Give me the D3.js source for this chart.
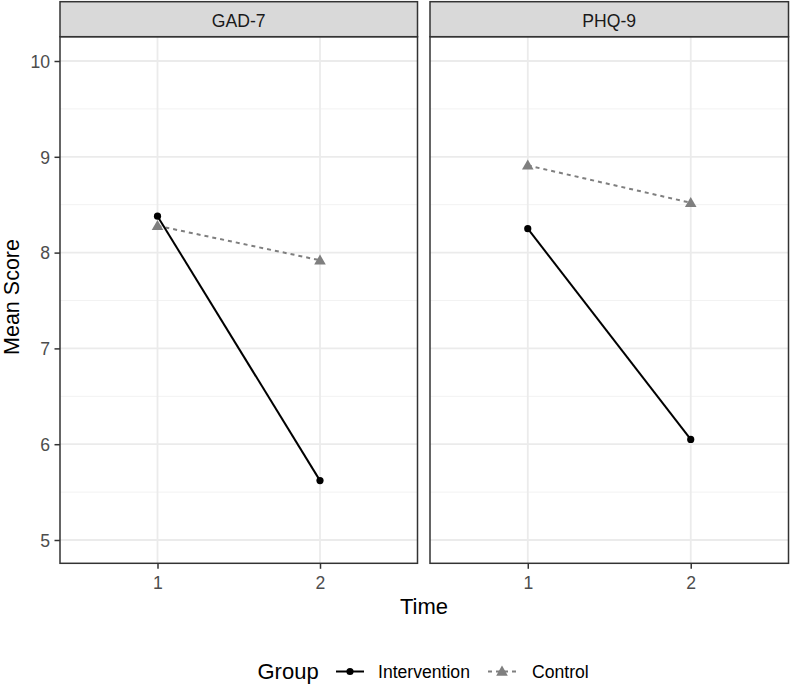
<!DOCTYPE html>
<html><head><meta charset="utf-8">
<script src="https://cdn.jsdelivr.net/npm/d3@7/dist/d3.min.js"></script>
<style>body{margin:0;background:#fff;} text{font-family:"Liberation Sans",Arial,sans-serif;}</style>
</head><body>
<svg id="c" width="790" height="686"></svg>
<script>
const facets = ["GAD-7", "PHQ-9"];
const times = [1, 2];
const groups = ["Intervention", "Control"];
const intervention = { "GAD-7": [8.38, 5.62], "PHQ-9": [8.25, 6.05] };
const control = { "GAD-7": [8.28, 7.92], "PHQ-9": [8.91, 8.52] };
const yTicks = [5, 6, 7, 8, 9, 10];
const yMinor = [5.5, 6.5, 7.5, 8.5, 9.5];

const FONT = "Liberation Sans, Arial, sans-serif";
const svg = d3.select("#c");
const panels = [{x0: 60, x1: 417.5}, {x0: 430, x1: 788.5}];
const stripTop = 1.7, stripBot = 36.7, pBot = 563.3;
const y = d3.scaleLinear().range([pBot, stripBot]);
y.domain([5 - (pBot-540)/95.8, 10 + (61-stripBot)/95.8]);

const series = [
  {name: "Intervention", data: intervention, color: "#000000", dash: null, shape: "circle"},
  {name: "Control", data: control, color: "#7F7F7F", dash: "4,4", shape: "triangle"}
];
const tri = d3.symbol().type(d3.symbolTriangle).size(58);

facets.forEach((f, i) => {
  const p = panels[i];
  const x = d3.scaleLinear().domain([0.4, 2.6]).range([p.x0, p.x1]);
  const g = svg.append("g");
  g.append("rect").attr("x", p.x0).attr("y", stripBot).attr("width", p.x1-p.x0).attr("height", pBot-stripBot).attr("fill", "#fff");
  yMinor.forEach(v => g.append("line").attr("x1", p.x0).attr("x2", p.x1).attr("y1", y(v)).attr("y2", y(v)).attr("stroke", "#F2F2F2").attr("stroke-width", 1));
  yTicks.forEach(v => g.append("line").attr("x1", p.x0).attr("x2", p.x1).attr("y1", y(v)).attr("y2", y(v)).attr("stroke", "#EBEBEB").attr("stroke-width", 1.8));
  times.forEach(t => g.append("line").attr("x1", x(t)).attr("x2", x(t)).attr("y1", stripBot).attr("y2", pBot).attr("stroke", "#EBEBEB").attr("stroke-width", 1.8));

  series.slice().reverse().forEach(s => {
    const pts = times.map((t, k) => [x(t), y(s.data[f][k])]);
    g.append("path").attr("d", d3.line()(pts)).attr("fill", "none").attr("stroke", s.color).attr("stroke-width", 2)
      .attr("stroke-dasharray", s.dash);
  });
  series.forEach(s => {
    times.forEach((t, k) => {
      if (s.shape === "circle") g.append("circle").attr("cx", x(t)).attr("cy", y(s.data[f][k])).attr("r", 3.6).attr("fill", s.color);
      else g.append("path").attr("d", tri).attr("transform", `translate(${x(t)},${y(s.data[f][k])+0.8})`).attr("fill", s.color);
    });
  });

  g.append("rect").attr("x", p.x0).attr("y", stripBot).attr("width", p.x1-p.x0).attr("height", pBot-stripBot).attr("fill", "none").attr("stroke", "#333").attr("stroke-width", 1.5);
  g.append("rect").attr("x", p.x0).attr("y", stripTop).attr("width", p.x1-p.x0).attr("height", stripBot-stripTop).attr("fill", "#D9D9D9").attr("stroke", "#333").attr("stroke-width", 1.5);
  g.append("text").attr("x", (p.x0+p.x1)/2).attr("y", 27.3).attr("text-anchor", "middle").attr("font-size", 17.6).attr("fill", "#1A1A1A").text(f);

  const xa = svg.append("g").attr("transform", `translate(0,${pBot})`).call(d3.axisBottom(x).tickValues(times).tickSize(5.5).tickPadding(4.4).tickFormat(d3.format("d")));
  xa.select(".domain").remove();
  xa.selectAll(".tick line").attr("stroke", "#333").attr("stroke-width", 1.5);
  xa.selectAll(".tick text").attr("font-size", 17.6).attr("fill", "#4D4D4D").attr("font-family", FONT).attr("dy", null).attr("y", 26);
  if (i === 0) {
    const ya = svg.append("g").attr("transform", `translate(${p.x0},0)`).call(d3.axisLeft(y).tickValues(yTicks).tickSize(5.5).tickPadding(4.4).tickFormat(d3.format("d")));
    ya.select(".domain").remove();
    ya.selectAll(".tick line").attr("stroke", "#333").attr("stroke-width", 1.5);
    ya.selectAll(".tick text").attr("font-size", 17.6).attr("fill", "#4D4D4D").attr("font-family", FONT).attr("dy", "0.36em");
  }
});

svg.append("text").attr("x", 424).attr("y", 614).attr("text-anchor", "middle").attr("font-size", 22).attr("fill", "#000").text("Time");
svg.append("text").attr("transform", "translate(18.5,297) rotate(-90)").attr("text-anchor", "middle").attr("font-size", 21.5).attr("fill", "#000").text("Mean Score");

const ly = 671.5;
svg.append("text").attr("x", 257.5).attr("y", ly).attr("dy", "0.35em").attr("font-size", 22).text("Group");
const keys = [{x: 336, tx: 378}, {x: 488, tx: 532}];
series.forEach((s, k) => {
  const kx = keys[k].x;
  svg.append("line").attr("x1", kx).attr("x2", kx+28).attr("y1", ly).attr("y2", ly).attr("stroke", s.color).attr("stroke-width", 2).attr("stroke-dasharray", s.dash);
  if (s.shape === "circle") svg.append("circle").attr("cx", kx+14).attr("cy", ly).attr("r", 3.6).attr("fill", s.color);
  else svg.append("path").attr("d", tri).attr("transform", `translate(${kx+14},${ly+0.8})`).attr("fill", s.color);
  svg.append("text").attr("x", keys[k].tx).attr("y", ly).attr("dy", "0.35em").attr("font-size", 17.6).attr("fill", "#000").text(groups[k]);
});
</script>
</body></html>
